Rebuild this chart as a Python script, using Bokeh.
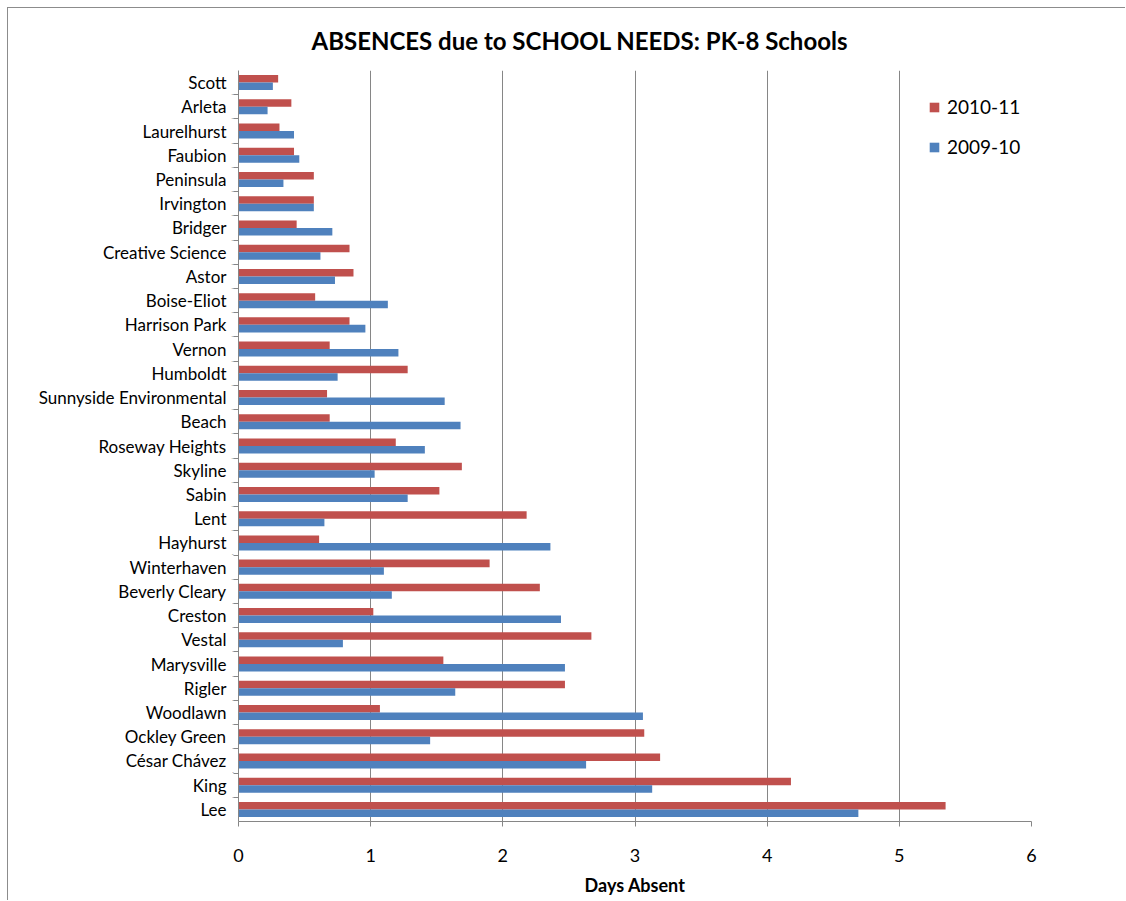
from bokeh.plotting import figure
from bokeh.models import (ColumnDataSource, FactorRange, Range1d, FixedTicker, Legend,
                          LegendItem, CategoricalAxis)
from bokeh.transform import dodge
from bokeh.embed import file_html
from bokeh.resources import INLINE

# Schools listed top to bottom as in the chart
schools = ["Scott", "Arleta", "Laurelhurst", "Faubion", "Peninsula", "Irvington",
           "Bridger", "Creative Science", "Astor", "Boise-Eliot", "Harrison Park",
           "Vernon", "Humboldt", "Sunnyside Environmental", "Beach", "Roseway Heights",
           "Skyline", "Sabin", "Lent", "Hayhurst", "Winterhaven", "Beverly Cleary",
           "Creston", "Vestal", "Marysville", "Rigler", "Woodlawn", "Ockley Green",
           "César Chávez", "King", "Lee"]
y2010_11 = [0.30, 0.40, 0.31, 0.42, 0.57, 0.57, 0.44, 0.84, 0.87, 0.58, 0.84,
            0.69, 1.28, 0.67, 0.69, 1.19, 1.69, 1.52, 2.18, 0.61, 1.90, 2.28,
            1.02, 2.67, 1.55, 2.47, 1.07, 3.07, 3.19, 4.18, 5.35]
y2009_10 = [0.26, 0.22, 0.42, 0.46, 0.34, 0.57, 0.71, 0.62, 0.73, 1.13, 0.96,
            1.21, 0.75, 1.56, 1.68, 1.41, 1.03, 1.28, 0.65, 2.36, 1.10, 1.16,
            2.44, 0.79, 2.47, 1.64, 3.06, 1.45, 2.63, 3.13, 4.69]
x_ticks = [0, 1, 2, 3, 4, 5, 6]
n = len(schools)
# one factor per boundary between categories, for the axis tick marks
boundary_factors = ["b%d" % i for i in range(n + 1)]

RED = "#C0504D"
BLUE = "#4F81BD"
GRID = "#868686"
FONT = "Lato"

source = ColumnDataSource(data=dict(school=schools, a=y2010_11, b=y2009_10))

p = figure(width=1118, height=893,
           y_range=FactorRange(*list(reversed(schools))),
           x_range=Range1d(0, 6),
           y_axis_location=None,
           output_backend="svg", toolbar_location=None,
           min_border_left=230, min_border_right=95,
           min_border_top=61, min_border_bottom=80)
p.styles = {"box-shadow": "-1px -1px 0 0 #8c8c8c", "margin": "8px 0px 0px 8px"}
p.outline_line_color = None
p.extra_y_ranges = {"bounds": FactorRange(factors=boundary_factors,
                                          range_padding=-0.5,
                                          range_padding_units="absolute")}

r1 = p.hbar(y=dodge("school", 0.155, range=p.y_range), right="a", left=0,
            height=0.31, source=source, fill_color=RED, line_color=None)
r2 = p.hbar(y=dodge("school", -0.155, range=p.y_range), right="b", left=0,
            height=0.31, source=source, fill_color=BLUE, line_color=None)

p.title.text = "ABSENCES due to SCHOOL NEEDS:  PK-8 Schools"
p.title.text_font = FONT
p.title.text_font_style = "bold"
p.title.text_font_size = "24px"
p.title.align = "left"
p.title.offset = 73
p.title.standoff = 31
p.title.text_color = "black"

xa = p.xaxis[0]
xa.ticker = FixedTicker(ticks=x_ticks)
xa.axis_label = "Days Absent"
xa.axis_label_text_font = FONT
xa.axis_label_text_font_style = "bold"
xa.axis_label_text_font_size = "18px"
xa.axis_label_text_color = "black"
xa.axis_label_standoff = 9
xa.major_label_text_font = FONT
xa.major_label_text_font_size = "18px"
xa.major_label_text_color = "black"
xa.major_label_standoff = 22
xa.axis_line_color = GRID
xa.major_tick_line_color = GRID
xa.major_tick_in = 0
xa.major_tick_out = 5
xa.minor_tick_line_color = None

# axis line with tick marks at the category boundaries (labels left empty)
tick_axis = CategoricalAxis(y_range_name="bounds",
                            major_label_overrides={f: "" for f in boundary_factors},
                            major_label_text_font_size="1px", major_label_standoff=0,
                            major_tick_in=0, major_tick_out=5,
                            axis_line_color=GRID, major_tick_line_color=GRID,
                            minor_tick_line_color=None)
p.add_layout(tick_axis, "left")

# category labels
cat_axis = CategoricalAxis(axis_line_color=None, major_tick_line_color=None,
                           minor_tick_line_color=None,
                           major_label_text_font=FONT,
                           major_label_text_font_size="17px",
                           major_label_text_color="black",
                           major_label_standoff=-4)
p.add_layout(cat_axis, "left")

p.xgrid.grid_line_color = GRID
p.xgrid.ticker = FixedTicker(ticks=x_ticks)
p.ygrid.grid_line_color = None

legend = Legend(items=[LegendItem(label="2010-11", renderers=[r1]),
                       LegendItem(label="2009-10", renderers=[r2])],
                location=(690, 663))
legend.border_line_color = None
legend.background_fill_alpha = 0
legend.padding = 0
legend.margin = 0
legend.glyph_width = 12
legend.glyph_height = 12
legend.label_standoff = 7
legend.label_text_font = FONT
legend.label_text_font_size = "19px"
legend.label_text_color = "black"
legend.spacing = 17
p.add_layout(legend)

open("out.html", "w").write(file_html(p, INLINE))
